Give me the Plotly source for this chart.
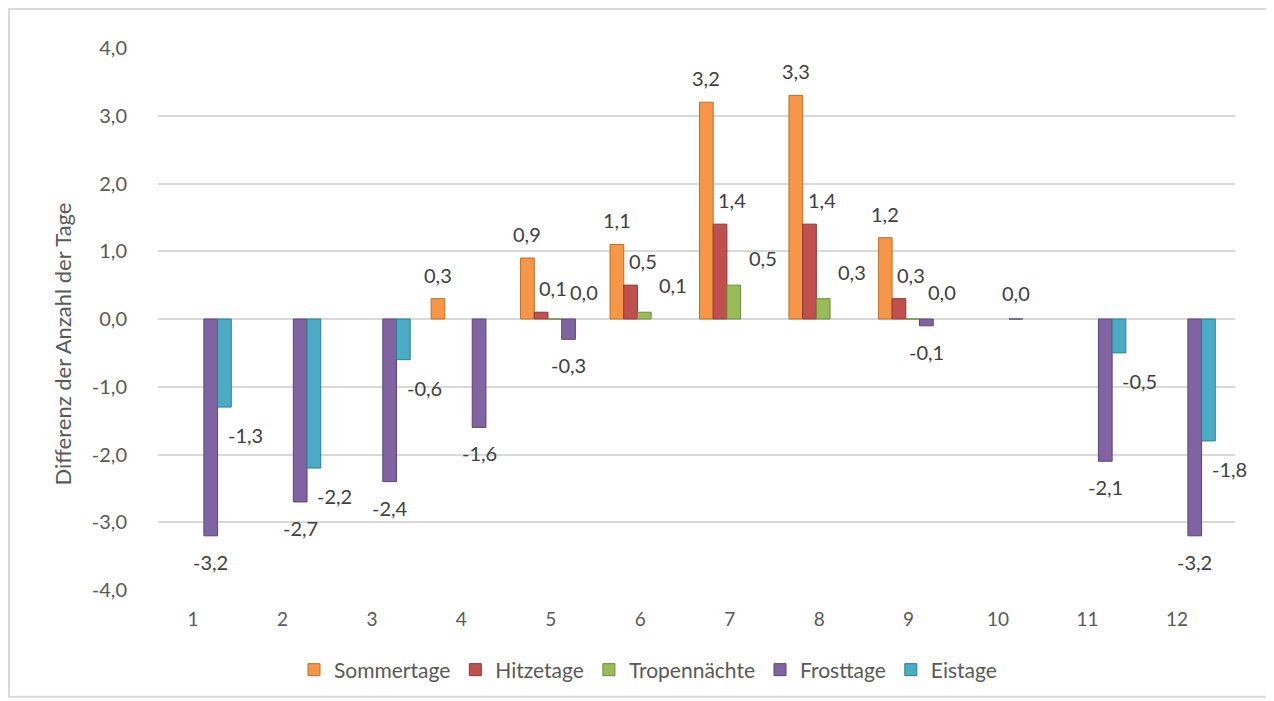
import plotly.graph_objects as go

# Monthly difference in number of days
months = list(range(1, 13))
sommertage = [None, None, None, 0.3, 0.9, 1.1, 3.2, 3.3, 1.2, None, None, None]
hitzetage = [None, None, None, None, 0.1, 0.5, 1.4, 1.4, 0.3, None, None, None]
tropennaechte = [None, None, None, None, 0.0, 0.1, 0.5, 0.3, 0.0, None, None, None]
frosttage = [-3.2, -2.7, -2.4, -1.6, -0.3, None, None, None, -0.1, 0.0, -2.1, -3.2]
eistage = [-1.3, -2.2, -0.6, None, None, None, None, None, None, None, -0.5, -1.8]
y_ticks = [-4, -3, -2, -1, 0, 1, 2, 3, 4]

# name, values, fill, edge, label x-shift, label y-distance
series = [
    ("Sommertage", sommertage, "#F79646", "#B8702F", 0, 24),
    ("Hitzetage", hitzetage, "#C0504D", "#8C3836", 12, 24),
    ("Tropennächte", tropennaechte, "#9BBB59", "#6E8A3C", 29, 27),
    ("Frosttage", frosttage, "#8064A2", "#5A4674", 0, 26),
    ("Eistage", eistage, "#4BACC6", "#2F7D92", 21, 28),
]

FONT = "Lato, 'Open Sans', sans-serif"
GREY = "#595959"
GROUP = 0.766          # share of a month taken by the 5 bars
SHIFT = 0.045          # groups sit slightly right of the tick
slot = GROUP / len(series)


def de(v):
    # German decimal comma, plain hyphen for negatives
    return f"{v:.1f}".replace(".", ",")


fig = go.Figure()
for i, (name, values, color, edge, dx, dy) in enumerate(series):
    fig.add_trace(go.Bar(
        name=name, x=months, y=values,
        width=slot, offset=(i - 2.5) * slot + SHIFT,
        marker=dict(color=color, line=dict(width=1, color=edge)),
    ))
    for m, v in zip(months, values):
        if v is None:
            continue
        fig.add_annotation(
            x=m + (i - 2) * slot + SHIFT, y=v, text=de(v),
            showarrow=False, xanchor="center", yanchor="middle",
            xshift=dx, yshift=dy if v >= 0 else -dy,
            font=dict(size=20, color="#404040", family=FONT),
        )

# plot-area margins (figure sits 8px inside the page)
L, R, T, B = 150, 39, 40, 110
FW, FH = 1266, 693
W, H = FW - L - R, FH - T - B

# grey border around the whole chart
fig.add_shape(type="rect", xref="paper", yref="paper",
              x0=(1 - L) / W, x1=(FW - 3 - L) / W,
              y0=(H + T - (FH - 3)) / H, y1=(H + T - 1) / H,
              line=dict(color="#D9D9D9", width=2), layer="below")

# y-axis title as a rotated annotation
fig.add_annotation(text="Differenz der Anzahl der Tage", textangle=-90,
                   xref="paper", yref="paper", x=(54 - L) / W, y=(H + T - 337) / H,
                   xanchor="center", yanchor="middle", showarrow=False,
                   font=dict(size=22, color=GREY, family=FONT))

fig.update_layout(
    width=FW, height=FH,
    margin=dict(l=L, r=R, t=T, b=B),
    paper_bgcolor="white", plot_bgcolor="white",
    barmode="overlay",
    font=dict(family=FONT, color=GREY, size=20),
    showlegend=True,
    legend=dict(orientation="h", x=(640 - L) / W, xanchor="center", y=-79 / H,
                yanchor="middle", font=dict(size=21, color=GREY),
                itemwidth=30),
    xaxis=dict(range=[1 - 35 / 89.45, 12 + 58 / 89.45], tickvals=months,
               showgrid=False, zeroline=False, showline=False, ticks="",
               ticklabelstandoff=16, tickfont=dict(size=19, color=GREY)),
    yaxis=dict(range=[-4, 4], tickvals=y_ticks, ticktext=[de(v) for v in y_ticks],
               showgrid=True, gridcolor="#D9D9D9", gridwidth=2,
               zeroline=True, zerolinecolor="#D9D9D9", zerolinewidth=2,
               showline=False, ticks="", ticklabelstandoff=30,
               tickfont=dict(size=20, color=GREY)),
)

fig.write_html("out.html")
